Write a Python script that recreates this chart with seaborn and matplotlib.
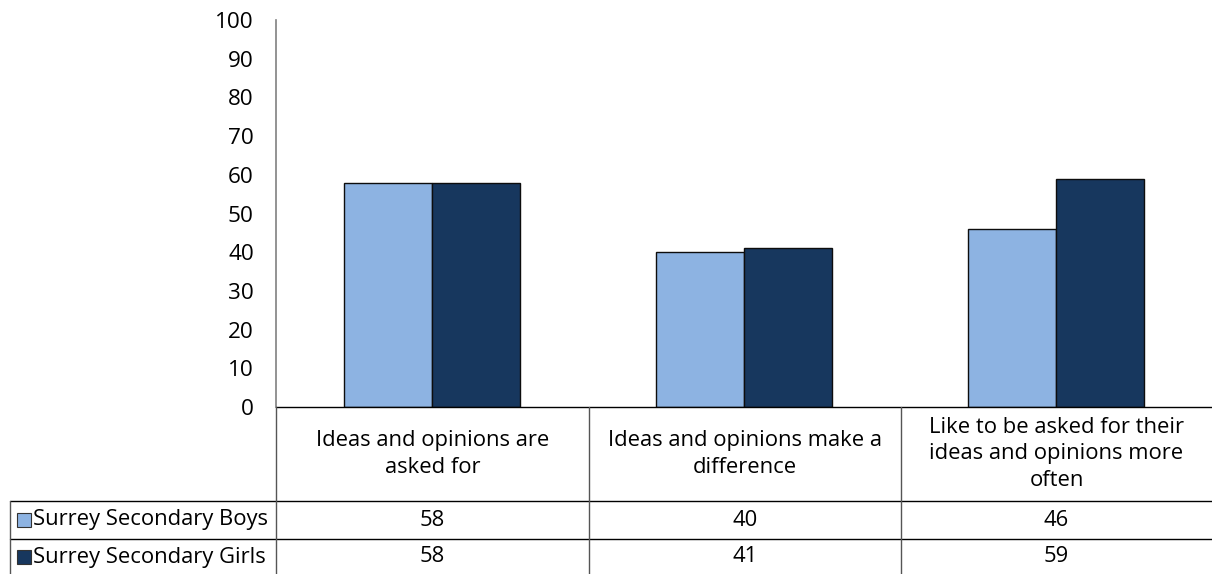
import matplotlib
matplotlib.use("Agg")
import matplotlib.pyplot as plt
import seaborn as sns
import pandas as pd
from matplotlib.lines import Line2D
from matplotlib.patches import Rectangle

categories = ["Ideas and opinions are asked for",
              "Ideas and opinions make a difference",
              "Like to be asked for their ideas and opinions more often"]
category_labels = ["Ideas and opinions are\nasked for",
                   "Ideas and opinions make a\ndifference",
                   "Like to be asked for their\nideas and opinions more\noften"]
series_names = ["Surrey Secondary Boys", "Surrey Secondary Girls"]
boys = [58, 40, 46]
girls = [58, 41, 59]
yticks = [0, 10, 20, 30, 40, 50, 60, 70, 80, 90, 100]
colors = ["#8DB3E2", "#17375E"]

df = pd.DataFrame({
    "category": categories * 2,
    "series": [series_names[0]] * 3 + [series_names[1]] * 3,
    "value": boys + girls,
})

sns.set_theme(style="white")
plt.rcParams["font.family"] = ["Open Sans", "DejaVu Sans"]
FS = 15.8

W, H = 1212, 574
fig = plt.figure(figsize=(W / 100, H / 100), dpi=100)

def fx(px):
    return px / W

def fy(py):
    return 1 - py / H

ax = fig.add_axes([fx(276), fy(407), fx(1212) - fx(276), fy(20) - fy(407)])
sns.barplot(data=df, x="category", y="value", hue="series", order=categories,
            hue_order=series_names, palette=colors, width=0.565, gap=0,
            edgecolor="#0d0d0d", linewidth=1, saturation=1, ax=ax, legend=False)
ax.set_xlim(-0.5, 2.5)
ax.set_ylim(0, 100)
ax.set_yticks(yticks)
ax.set_yticklabels([str(v) for v in yticks], fontsize=16.2, color="#000000")
ax.tick_params(axis="y", length=0, pad=16)
ax.set_xticks([])
ax.set_xlabel("")
ax.set_ylabel("")
for s in ["top", "right", "bottom"]:
    ax.spines[s].set_visible(False)
ax.spines["left"].set_color("#808080")
ax.spines["left"].set_linewidth(1.2)

# data table
def hline(y, x0, x1, color="#000000", lw=1.0):
    fig.add_artist(Line2D([fx(x0), fx(x1)], [fy(y), fy(y)], color=color, lw=lw))

def vline(x, y0, y1, color="#000000", lw=1.0):
    fig.add_artist(Line2D([fx(x), fx(x)], [fy(y0), fy(y1)], color=color, lw=lw))

hline(407, 276, 1212)
hline(501, 10, 1212)
hline(539, 10, 1212)
vline(276, 407, 574, color="#555555")
vline(589, 407, 574, color="#555555")
vline(901, 407, 574, color="#555555")
vline(10, 501, 574, color="#555555")

col_centers = [432.5, 745, 1056.5]
for cx, lab in zip(col_centers, category_labels):
    fig.text(fx(cx), fy(454), lab, ha="center", va="center", fontsize=FS,
             linespacing=1.35, color="#000000")

row_centers = [520, 557]
for ry, name, vals, c in zip(row_centers, series_names, [boys, girls], colors):
    fig.add_artist(Rectangle((fx(17), fy(ry + 7)), fx(14), fy(0) - fy(14),
                             facecolor=c, edgecolor="#333333", lw=0.8,
                             transform=fig.transFigure))
    fig.text(fx(33), fy(ry), name, ha="left", va="center", fontsize=FS, color="#000000")
    for cx, v in zip(col_centers, vals):
        fig.text(fx(cx), fy(ry), str(v), ha="center", va="center", fontsize=FS,
                 color="#000000")

fig.savefig("out.png", dpi=100)
